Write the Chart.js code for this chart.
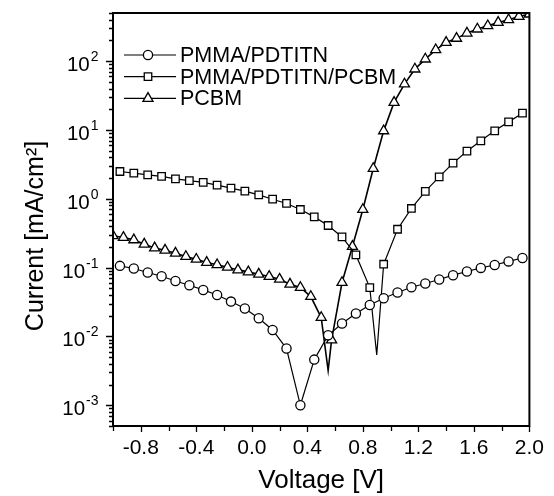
<!DOCTYPE html>
<html>
<head>
  <meta charset="utf-8">
  <title>I-V curves</title>
  <script src="https://cdn.jsdelivr.net/npm/chart.js"></script>
  <style>
    body { margin: 0; padding: 0; background: #fff; }
    #wrap { width: 554px; height: 496px; }
  </style>
</head>
<body>
  <div id="wrap"><canvas id="ivChart"></canvas></div>

  <script>
    // values: voltage [V], current density [mA/cm2]
    const circleV = [-0.95, -0.85, -0.75, -0.65, -0.55, -0.45, -0.35, -0.25, -0.15, -0.05,
                     0.05, 0.15, 0.25, 0.35, 0.45, 0.55, 0.65, 0.75, 0.85, 0.95,
                     1.05, 1.15, 1.25, 1.35, 1.45, 1.55, 1.65, 1.75, 1.85, 1.95];
    const circleI = [0.106, 0.097, 0.085, 0.075, 0.064, 0.0555, 0.0474, 0.0401, 0.0321, 0.0255,
                     0.0184, 0.0124, 0.00667, 0.00100, 0.00461, 0.0104, 0.0154, 0.0215, 0.0287, 0.0359,
                     0.0435, 0.0519, 0.0587, 0.0671, 0.0776, 0.0878, 0.099, 0.109, 0.123, 0.138];

    const squareV = [-0.95, -0.85, -0.75, -0.65, -0.55, -0.45, -0.35, -0.25, -0.15, -0.05,
                     0.05, 0.15, 0.25, 0.35, 0.45, 0.55, 0.65, 0.75, 0.85,
                     0.95, 1.05, 1.15, 1.25, 1.35, 1.45, 1.55, 1.65, 1.75, 1.85, 1.95];
    const squareI = [2.49, 2.36, 2.22, 2.11, 1.95, 1.84, 1.73, 1.58, 1.43, 1.29,
                     1.14, 0.986, 0.855, 0.699, 0.546, 0.409, 0.279, 0.153, 0.0513,
                     0.112, 0.361, 0.723, 1.28, 2.08, 3.29, 4.92, 6.95, 9.7, 13.1, 17.5];
    // sign change, line only (no marker there)
    const squareDipV = 0.9;
    const squareDipI = 0.0054;

    const triangleV = [-1.0, -0.925, -0.85, -0.775, -0.7, -0.625, -0.55, -0.475, -0.4, -0.325,
                       -0.25, -0.175, -0.1, -0.025, 0.05, 0.125, 0.2, 0.275, 0.35, 0.425,
                       0.5, 0.575, 0.65, 0.725, 0.8, 0.875, 0.95, 1.025, 1.1, 1.175,
                       1.25, 1.325, 1.4, 1.475, 1.55, 1.625, 1.7, 1.775, 1.85, 1.925, 2.0];
    const triangleI = [0.29, 0.274, 0.253, 0.219, 0.193, 0.179, 0.162, 0.145, 0.132, 0.119,
                       0.110, 0.101, 0.0926, 0.0867, 0.0802, 0.0743, 0.0678, 0.0574, 0.0514, 0.038,
                       0.0188, 0.0089, 0.0607, 0.203, 0.698, 2.75, 9.7, 25.1, 46.4, 76.6,
                       107, 146, 187, 214, 255, 292, 326, 365, 398, 446, 482];
    const triangleDipV = 0.55;
    const triangleDipI = 0.0032;

    const seriesNames = ['PMMA/PDTITN', 'PMMA/PDTITN/PCBM', 'PCBM'];
    const xTickLabels = ['-0.8', '-0.4', '0.0', '0.4', '0.8', '1.2', '1.6', '2.0'];
    const yExponents = [-3, -2, -1, 0, 1, 2];

    const FONT = "'Liberation Sans', Arial, Helvetica, sans-serif";

    function points(vs, is, dipV, dipI) {
      const pts = vs.map((v, k) => ({x: v, y: is[k]}));
      if (dipV !== undefined) {
        pts.push({x: dipV, y: dipI, dip: true});
        pts.sort((a, b) => a.x - b.x);
      }
      return pts;
    }

    function isPow10(v) {
      const l = Math.log10(v);
      return Math.abs(l - Math.round(l)) < 1e-9;
    }

    // y ticks: 1..9 x 10^n inside the axis range
    const yMin = 5e-4, yMax = 500;
    const yTicks = [];
    for (let e = -4; e <= 2; e++) {
      for (let m = 1; m <= 9; m++) {
        const v = m * Math.pow(10, e);
        if (v >= yMin * 0.999 && v <= yMax * 1.001) yTicks.push(v);
      }
    }

    const styles = [
      {pointStyle: 'circle', radius: 4.6, line: 1.2},
      {pointStyle: 'rect', radius: 5.3, line: 1.2},
      {pointStyle: 'triangle', radius: 5.8, line: 1.6}
    ];

    const allData = [
      points(circleV, circleI),
      points(squareV, squareI, squareDipV, squareDipI),
      points(triangleV, triangleI, triangleDipV, triangleDipI)
    ];

    const datasets = allData.map((d, k) => ({
      label: seriesNames[k],
      data: d,
      borderColor: '#000',
      borderWidth: styles[k].line,
      pointStyle: styles[k].pointStyle,
      pointRadius: c => (c.raw && c.raw.dip) ? 0 : styles[k].radius,
      pointBorderColor: '#000',
      pointBackgroundColor: '#fff',
      pointBorderWidth: 1.3,
      tension: 0,
      fill: false
    }));

    // own marker drawing for the legend, same geometry as chart.js
    function marker(ctx, style, r, x, y) {
      ctx.beginPath();
      if (style === 'circle') {
        ctx.arc(x, y, r, 0, Math.PI * 2);
      } else if (style === 'rect') {
        const s = r * Math.SQRT1_2;
        ctx.rect(x - s, y - s, 2 * s, 2 * s);
      } else {
        for (let j = 0; j < 3; j++) {
          const a = j * 2 * Math.PI / 3;
          const px = x + Math.sin(a) * r, py = y - Math.cos(a) * r;
          if (j === 0) ctx.moveTo(px, py); else ctx.lineTo(px, py);
        }
        ctx.closePath();
      }
      ctx.fill();
      ctx.stroke();
    }

    const framePlugin = {
      id: 'frame',
      afterDraw(chart) {
        const {ctx, chartArea: a} = chart;
        const xs = chart.scales.x, ys = chart.scales.y;
        ctx.save();
        ctx.strokeStyle = '#000';
        ctx.fillStyle = '#000';

        // tick marks, outward
        ctx.lineWidth = 1.3;
        ctx.beginPath();
        xs.ticks.forEach(t => {
          const px = Math.round(xs.getPixelForValue(t.value)) + 0.5;
          const major = Math.abs(t.value / 0.4 - Math.round(t.value / 0.4)) < 1e-6;
          ctx.moveTo(px, a.bottom);
          ctx.lineTo(px, a.bottom + (major ? 6 : 5));
        });
        ys.ticks.forEach(t => {
          const py = Math.round(ys.getPixelForValue(t.value)) + 0.5;
          const len = isPow10(t.value) ? 7 : 4;
          ctx.moveTo(a.left, py);
          ctx.lineTo(a.left - len, py);
        });
        ctx.stroke();

        // y tick labels 10^n with a raised exponent
        ctx.textAlign = 'right';
        ctx.textBaseline = 'alphabetic';
        const rightEdge = a.left - 14.5;
        yExponents.forEach(e => {
          const py = ys.getPixelForValue(Math.pow(10, e));
          const ex = String(e);
          ctx.font = '14px ' + FONT;
          const w = ctx.measureText(ex).width;
          ctx.fillText(ex, rightEdge, py);
          ctx.font = '20.5px ' + FONT;
          ctx.fillText('10', rightEdge - w - 1, py + 10);
        });

        // box
        ctx.lineWidth = 2;
        ctx.strokeRect(a.left, a.top, a.right - a.left, a.bottom - a.top);

        // legend, inside the plot at top left
        ctx.font = '21.5px ' + FONT;
        ctx.textBaseline = 'middle';
        ctx.textAlign = 'left';
        seriesNames.forEach((name, k) => {
          const y = a.top + 42 + k * 21.7;
          ctx.lineWidth = 1.2;
          ctx.beginPath();
          ctx.moveTo(a.left + 11, y);
          ctx.lineTo(a.left + 63, y);
          ctx.stroke();
          ctx.lineWidth = 1.3;
          ctx.fillStyle = '#fff';
          marker(ctx, styles[k].pointStyle, styles[k].radius, a.left + 35, y);
          ctx.fillStyle = '#000';
          ctx.fillText(name, a.left + 67, y + 1);
        });

        // y title, a little below the middle as in the figure
        ctx.translate(43, 236);
        ctx.rotate(-Math.PI / 2);
        ctx.font = '25px ' + FONT;
        ctx.textAlign = 'center';
        ctx.textBaseline = 'alphabetic';
        ctx.fillText('Current [mA/cm\u00B2]', 0, 0);
        ctx.restore();
      }
    };

    const ctx = document.getElementById('ivChart').getContext('2d');
    const chart = new Chart(ctx, {
      type: 'line',
      data: { datasets: datasets },
      options: {
        responsive: true,
        maintainAspectRatio: false,
        animation: false,
        events: [],
        layout: { padding: { top: 13, right: 22, left: 0, bottom: 0 } },
        plugins: {
          legend: { display: false },
          tooltip: { enabled: false }
        },
        scales: {
          x: {
            type: 'linear',
            min: -1,
            max: 2,
            grid: { display: false, drawTicks: false },
            border: { display: false },
            ticks: {
              stepSize: 0.2,
              autoSkip: false,
              maxRotation: 0,
              padding: 10,
              color: '#000',
              font: { size: 21, family: FONT },
              callback: v => {
                const lab = xTickLabels.find(s => Math.abs(parseFloat(s) - v) < 1e-6);
                return lab || '';
              }
            },
            title: {
              display: true,
              text: 'Voltage [V]',
              color: '#000',
              font: { size: 26, family: FONT },
              padding: { top: 0, bottom: 0 }
            },
            afterFit: s => { s.height = 70; }
          },
          y: {
            type: 'logarithmic',
            min: yMin,
            max: yMax,
            grid: { display: false, drawTicks: false },
            border: { display: false },
            afterBuildTicks: s => { s.ticks = yTicks.map(v => ({value: v})); },
            ticks: { display: false, autoSkip: false },
            afterFit: s => { s.width = 113; }
          }
        }
      },
      plugins: [framePlugin]
    });
  </script>
</body>
</html>
